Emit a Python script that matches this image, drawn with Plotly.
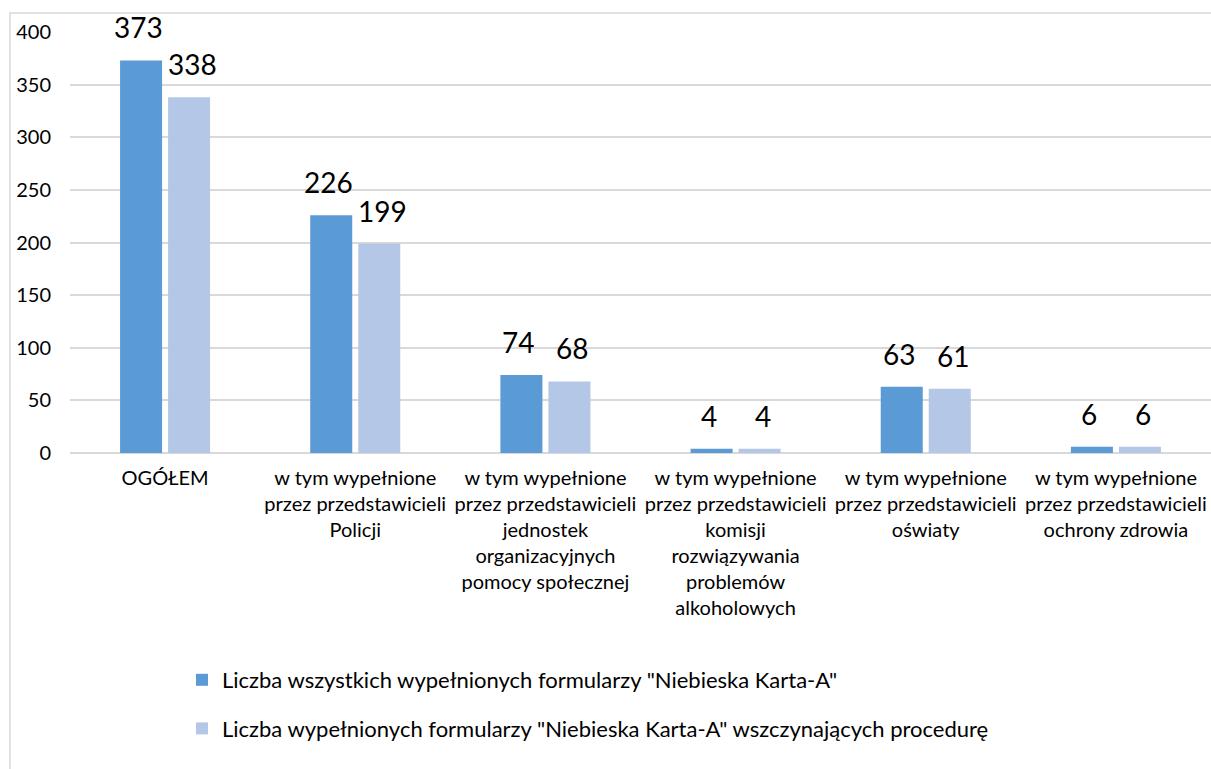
import plotly.graph_objects as go

categories = [
    "OGÓŁEM",
    "w tym wypełnione<br>przez przedstawicieli<br>Policji",
    "w tym wypełnione<br>przez przedstawicieli<br>jednostek<br>organizacyjnych<br>pomocy społecznej",
    "w tym wypełnione<br>przez przedstawicieli<br>komisji<br>rozwiązywania<br>problemów<br>alkoholowych",
    "w tym wypełnione<br>przez przedstawicieli<br>oświaty",
    "w tym wypełnione<br>przez przedstawicieli<br>ochrony zdrowia",
]
series_names = [
    'Liczba wszystkich wypełnionych formularzy "Niebieska Karta-A"',
    'Liczba wypełnionych formularzy "Niebieska Karta-A" wszczynających procedurę',
]
all_forms = [373, 226, 74, 4, 63, 6]
started_forms = [338, 199, 68, 4, 61, 6]
colors = ["#5B9BD5", "#B4C7E7"]
y_ticks = [0, 50, 100, 150, 200, 250, 300, 350, 400]

FONT = "Lato"
W, H = 1211, 769
L, R, T, B = 70, 0, 32, 316
pw = W - L - R
ph = H - T - B

fig = go.Figure()
for i, (name, vals) in enumerate(zip(series_names, [all_forms, started_forms])):
    fig.add_trace(go.Bar(
        x=categories, y=vals, name=name, marker_color=colors[i],
        marker_line_width=0, legendgroup=f"g{i}",
    ))
    for c, v in zip(categories, vals):
        fig.add_annotation(
            x=c, y=v, text=str(v), showarrow=False, yanchor="bottom",
            xshift=-27 if i == 0 else 27, yshift=14,
            font=dict(family=FONT, size=28, color="#000000"),
        )

fig.update_layout(
    width=W, height=H,
    margin=dict(l=L, r=R, t=T, b=B, autoexpand=False),
    paper_bgcolor="white", plot_bgcolor="white",
    barmode="group", bargap=0.495, bargroupgap=0.125,
    font=dict(family=FONT, color="#000000"),
    showlegend=True,
    legend=dict(
        orientation="v", x=(182 - L) / pw, xanchor="left",
        y=(453 - 659) / ph, yanchor="top",
        font=dict(family=FONT, size=22, color="#000000"),
        tracegroupgap=17, traceorder="grouped",
        bgcolor="rgba(0,0,0,0)",
    ),
    xaxis=dict(
        showgrid=False, showline=False, ticks="",
        tickfont=dict(family=FONT, size=20, color="#000000"),
        ticklabelstandoff=11,
    ),
    yaxis=dict(
        range=[0, 400], tickvals=y_ticks, showgrid=True,
        gridcolor="#D9D9D9", gridwidth=1.5,
        zeroline=True, zerolinecolor="#D9D9D9", zerolinewidth=1.5,
        showline=False, ticks="",
        tickfont=dict(family=FONT, size=20, color="#000000"),
        ticklabelstandoff=18,
    ),
)

fig.add_shape(
    type="rect", xref="paper", yref="paper",
    x0=(10 - L) / pw, x1=1.05, y0=-1.0, y1=1 + (T - 13) / ph,
    line=dict(color="#D9D9D9", width=1.5), fillcolor="rgba(0,0,0,0)",
    layer="below",
)

fig.write_html("out.html", config={"displayModeBar": False},
               post_script="document.body.style.margin='0';")
